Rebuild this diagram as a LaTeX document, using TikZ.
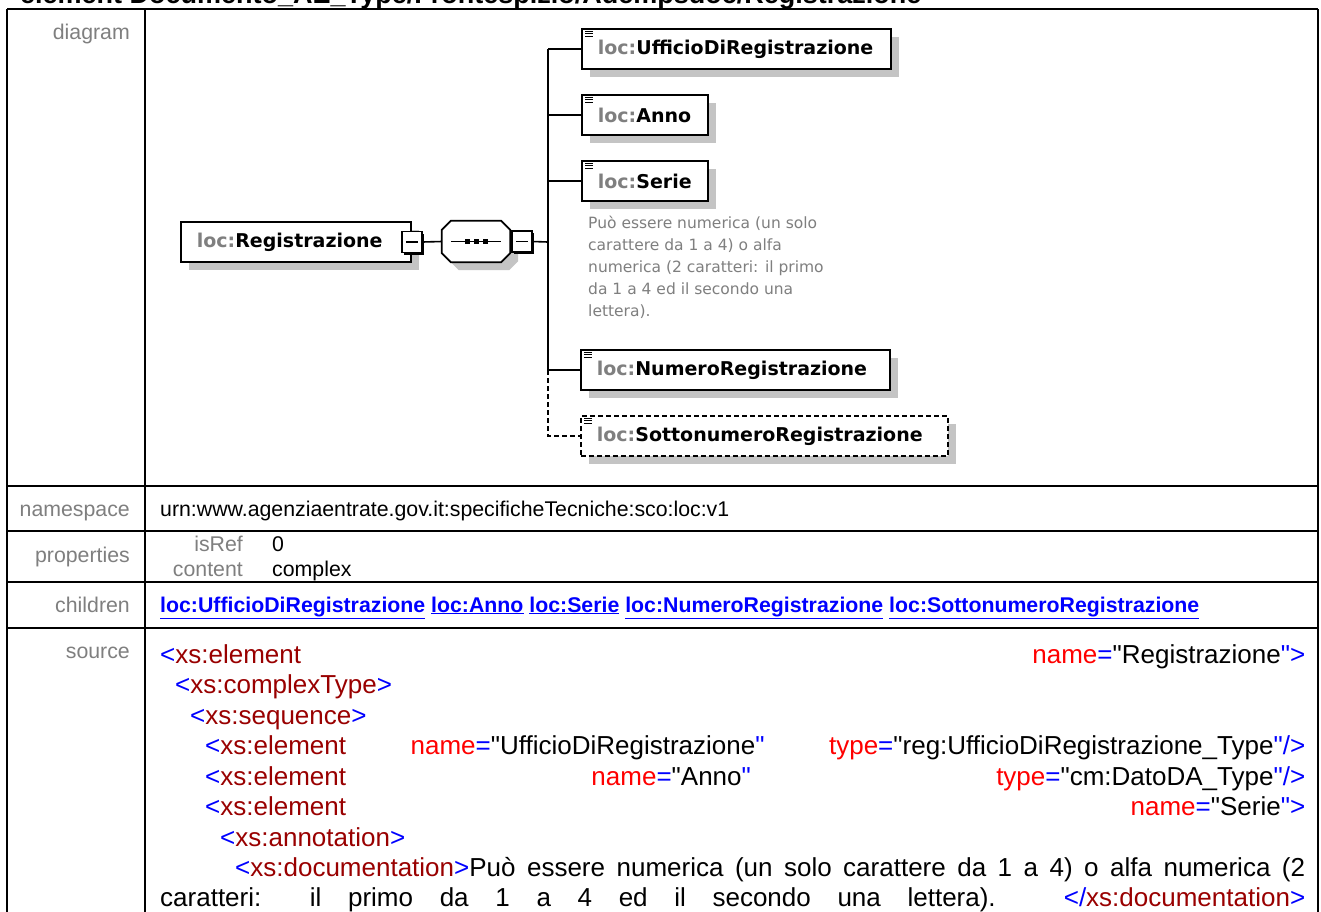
\documentclass[tikz,border=0pt]{standalone}
\usepackage{fontspec}
\setmainfont{Liberation Sans}[Ligatures=TeXOff]
\newfontfamily\xmlfont{DejaVu Sans}
\usetikzlibrary{positioning,calc,shadows}
\definecolor{lblgray}{HTML}{7F7F7F}
\definecolor{shadegray}{HTML}{C4C4C4}
\definecolor{tagblue}{HTML}{0000FF}
\definecolor{tagred}{HTML}{990000}
\definecolor{attrred}{HTML}{FF0000}
\definecolor{linkblue}{HTML}{0000FF}
\newcommand\tgb[1]{\textcolor{tagblue}{#1}}
\newcommand\tgn[1]{\textcolor{tagred}{#1}}
\newcommand\atn[1]{\textcolor{attrred}{#1}}
\newcommand\lnk[1]{\underline{#1}}
\newcommand\seqoct[2]{($(seq.north west)+(9+#1,#2)$) -- ($(seq.north east)+(-9+#1,#2)$)
  -- ($(seq.north east)+(#1,9+#2)$) -- ($(seq.south east)+(#1,-9+#2)$)
  -- ($(seq.south east)+(-9+#1,#2)$) -- ($(seq.south west)+(9+#1,#2)$)
  -- ($(seq.south west)+(#1,-9+#2)$) -- ($(seq.north west)+(#1,9+#2)$) -- cycle}
\tikzset{
  tbl/.style={line width=2pt},
  rowlbl/.style={anchor=base east,inner sep=0pt,text=lblgray,font=\fontsize{21.3}{24}\selectfont},
  cell/.style={anchor=base west,inner sep=0pt,font=\fontsize{21.3}{24}\selectfont},
  src/.style={anchor=base west,inner sep=0pt,font=\fontsize{26}{30}\selectfont},
  elbox/.style={draw,line width=1.8pt,fill=white,anchor=west,text width=#1,align=left,
    minimum height=40pt,inner xsep=16pt,inner ysep=0pt,
    font=\xmlfont\bfseries\fontsize{19}{22}\selectfont,
    drop shadow={shadow xshift=8pt,shadow yshift=-8pt,fill=shadegray,opacity=1}},
  optbox/.style={elbox=#1,dash pattern=on 5pt off 3pt},
  minus/.style={draw,line width=1.4pt,fill=white,minimum width=20pt,minimum height=21pt,inner sep=0pt,
    drop shadow={shadow xshift=2pt,shadow yshift=-2pt,fill=black,opacity=1},
    path picture={\draw[line width=1.2pt] ([xshift=4pt]path picture bounding box.west)
      -- ([xshift=-4pt]path picture bounding box.east);}},
  wire/.style={line width=1.6pt},
  optwire/.style={wire,dash pattern=on 5pt off 3pt},
  note/.style={anchor=north west,inner sep=0pt,align=left,text=lblgray,
    font=\xmlfont\fontsize{15.5}{22}\selectfont}
}

\begin{document}
\begin{tikzpicture}[x=1pt,y=-1pt]
  \useasboundingbox (0,0) rectangle (1321,911);
  \fill[white] (0,0) rectangle (1321,911);
  \clip (0,0) rectangle (1321,911);

  % heading, cut at the top
  \node[anchor=base west,inner sep=0pt,font=\bfseries\fontsize{27}{30}\selectfont] (heading) at (20,3)
    {element Documento\_AE\_Type/Frontespizio/Adempsdoc/Registrazione};

  % table
  \draw[tbl] (7,9) -- (1318,9);
  \draw[tbl] (7,9) -- (7,920);
  \draw[tbl] (145,9) -- (145,920);
  \draw[tbl] (1318,9) -- (1318,920);
  \foreach \y in {486,531,582,628}
    \draw[tbl] (7,\y) -- (1318,\y);

  \node[rowlbl] (lbldia) at (130,39) {diagram};
  \node[rowlbl] (lblns) at (130,516) {namespace};
  \node[rowlbl] (lblprop) at (130,562) {properties};
  \node[rowlbl] (lblchild) at (130,612) {children};
  \node[rowlbl] (lblsrc) at (130,658) {source};

  \node[cell] (nsval) at (160,516) {urn:www.agenziaentrate.gov.it:specificheTecniche:sco:loc:v1};
  \node[rowlbl] (isref) at (243,551) {isRef};
  \node[cell] (isrefval) at (272,551) {0};
  \node[rowlbl] (content) at (243,576) {content};
  \node[cell] (contentval) at (272,576) {complex};
  \node[cell,font=\bfseries\fontsize{21.3}{24}\selectfont,text=linkblue] (childlinks) at (160,612)
    {\lnk{loc:UfficioDiRegistrazione} \lnk{loc:Anno} \lnk{loc:Serie} \lnk{loc:NumeroRegistrazione} \lnk{loc:SottonumeroRegistrazione}};

  % source listing
  \node[src] (s0) at (160,663) {\makebox[1145pt][s]{\tgb{<}\tgn{xs:element} \atn{name}\tgb{=}"Registrazione\tgb{">}}};
  \node[src] (s1) at (175,693.5) {\tgb{<}\tgn{xs:complexType}\tgb{>}};
  \node[src] (s2) at (190,724) {\tgb{<}\tgn{xs:sequence}\tgb{>}};
  \node[src] (s3) at (205,754.5) {\makebox[1100pt][s]{\tgb{<}\tgn{xs:element} \atn{name}\tgb{=}"UfficioDiRegistrazione\tgb{"} \atn{type}\tgb{=}"reg:UfficioDiRegistrazione\_Type\tgb{"/>}}};
  \node[src] (s4) at (205,785) {\makebox[1100pt][s]{\tgb{<}\tgn{xs:element} \atn{name}\tgb{=}"Anno\tgb{"} \atn{type}\tgb{=}"cm:DatoDA\_Type\tgb{"/>}}};
  \node[src] (s5) at (205,815.5) {\makebox[1100pt][s]{\tgb{<}\tgn{xs:element} \atn{name}\tgb{=}"Serie\tgb{">}}};
  \node[src] (s6) at (220,846) {\tgb{<}\tgn{xs:annotation}\tgb{>}};
  \node[src] (s7) at (235,876.5) {\makebox[1070pt][s]{\tgb{<}\tgn{xs:documentation}\tgb{>}Può essere numerica (un solo carattere da 1 a 4) o alfa numerica (2}};
  \node[src] (s8) at (160,906) {\makebox[1145pt][s]{caratteri: il primo da 1 a 4 ed il secondo una lettera). \tgb{</}\tgn{xs:documentation}\tgb{>}}};

  % diagram
  \node[elbox=198pt] (reg) at (180,242) {\textcolor{lblgray}{loc:}Registrazione};
  \node[minus] (regminus) at (reg.east) {};
  \node[minimum width=68pt,minimum height=41pt,inner sep=0pt] (seq) at (476,241.5) {};
  \fill[shadegray] \seqoct{8}{8};
  \draw[line width=1.8pt,fill=white] \seqoct{0}{0};
  \draw[line width=1.4pt] ($(seq.west)+(9,0)$) -- ($(seq.east)+(-9,0)$);
  \foreach \dx in {-9,0,9}
    \fill ($(seq.center)+(\dx,0)$) +(-2.5,-2.5) rectangle +(2.5,2.5);
  \node[minus,anchor=west] (seqminus) at ($(seq.east)+(1,0)$) {};
  \coordinate (spine) at (548,242);

  \node[elbox=277pt] (uff) at (581,49) {\textcolor{lblgray}{loc:}UfficioDiRegistrazione};
  \node[elbox=94pt] (anno) at (581,115) {\textcolor{lblgray}{loc:}Anno};
  \node[elbox=94pt] (serie) at (581,181) {\textcolor{lblgray}{loc:}Serie};
  \node[note] (serienote) at (588,216) {Può essere numerica (un solo\\carattere da 1 a 4) o alfa\\numerica (2 caratteri: il primo\\da 1 a 4 ed il secondo una\\lettera).};
  \node[elbox=277pt] (numero) at (580,370) {\textcolor{lblgray}{loc:}NumeroRegistrazione};
  \node[optbox=335pt] (sotto) at (580,436) {\textcolor{lblgray}{loc:}SottonumeroRegistrazione};

  \foreach \n in {uff,anno,serie,numero,sotto}
    \foreach \dy in {3,5.5,8}
      \draw[line width=1.2pt] ($(\n.north west)+(4,\dy)$) -- ++(8,0);

  \draw[wire] (regminus.east) -- (seq.west);
  \draw[wire] (seqminus.east) -- (spine);
  \draw[wire] (spine |- uff.west) -- (spine |- numero.west);
  \foreach \n in {uff,anno,serie,numero}
    \draw[wire] (spine |- \n.west) -- (\n.west);
  \draw[optwire] (spine |- numero.west) -- (spine |- sotto.west) -- (sotto.west);
\end{tikzpicture}
\end{document}
